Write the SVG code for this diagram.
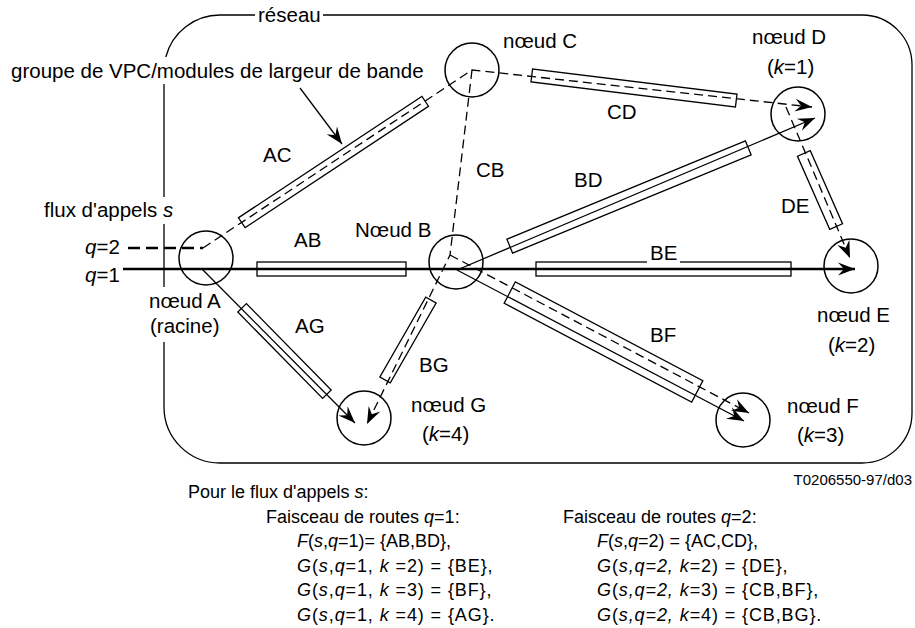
<svg xmlns="http://www.w3.org/2000/svg" width="915" height="628" viewBox="0 0 915 628">
<style>
.ln{fill:none;stroke:#000;stroke-width:1.3}
.dash{stroke-dasharray:9 5}
.thick{stroke-width:2.4}
.box{fill:none;stroke:#000;stroke-width:1.3}
.nd{fill:none;stroke:#000;stroke-width:1.5}
text{font-family:"Liberation Sans",Arial,Helvetica,sans-serif;font-size:20.5px;fill:#000}
.sm{font-size:18px}
.gl{font-size:18px;letter-spacing:0.9px}
.id{font-size:15px}
.i{font-style:italic}
</style>
<defs>
<marker id="arr" markerUnits="userSpaceOnUse" viewBox="-18 -8 19 16" refX="0" refY="0" markerWidth="19" markerHeight="16" orient="auto" overflow="visible">
<path d="M0,0 L-17,-6.5 L-11,0 L-17,6.5 Z" fill="#000" stroke="none"/>
</marker>
</defs>
<rect width="915" height="628" fill="#fff"/>

<g id="reseau">
<path class="ln" d="M164,84 V197 M164,224 V287 M164,342 V407 A56,56 0 0 0 220,463 H862 A50,50 0 0 0 912,413 V65 A50,50 0 0 0 862,15 H323 M255,15 H220 A56,56 0 0 0 165.8,57"/>
<text x="258" y="22">réseau</text>
</g>

<g id="bundles">
<rect class="box" x="-110" y="-6" width="220" height="12" transform="translate(333.5,162) rotate(-33.5)"/>
<rect class="box" x="-103" y="-6.5" width="206" height="13" transform="translate(634,88) rotate(7)"/>
<rect class="box" x="257" y="262" width="149" height="14"/>
<rect class="box" x="-129" y="-7.5" width="258" height="15" transform="translate(629,197) rotate(-22.4)"/>
<rect class="box" x="536" y="262" width="255" height="14"/>
<rect class="box" x="-40" y="-7" width="80" height="14" transform="translate(820,190) rotate(66.2)"/>
<rect class="box" x="-106" y="-12" width="212" height="24" transform="translate(603.5,342) rotate(27.8)"/>
<rect class="box" x="-46" y="-6" width="92" height="12" transform="translate(408,340) rotate(-60.1)"/>
<rect class="box" x="-60.5" y="-6" width="121" height="12" transform="translate(284.5,351) rotate(45.5)"/>
</g>

<g id="connectors">
<path class="ln thick" d="M123,269 H855" marker-end="url(#arr)"/>
<path class="ln thick dash" d="M128,248 H203" style="stroke-dasharray:12 6"/>
<path class="ln dash" d="M203,248 L472,70 L812,107" marker-end="url(#arr)"/>
<path class="ln dash" d="M786,107 L850,258" marker-end="url(#arr)"/>
<path class="ln dash" d="M472,70 L450,255 L367,424" marker-end="url(#arr)"/>
<path class="ln dash" d="M450,255 L749,413" marker-end="url(#arr)"/>
<path class="ln" d="M457,270 L815,118" marker-end="url(#arr)"/>
<path class="ln" d="M457,270 L744,421" marker-end="url(#arr)"/>
<path class="ln" d="M202,269 L355,423" marker-end="url(#arr)"/>
<path class="ln" d="M300,88 L342,144" marker-end="url(#arr)"/>
</g>

<g id="edge-labels">
<text x="263" y="162">AC</text>
<text x="294" y="247">AB</text>
<text x="476" y="177">CB</text>
<text x="607" y="119">CD</text>
<text x="574" y="187">BD</text>
<text x="781" y="213">DE</text>
<rect x="647" y="246" width="33" height="17.5" fill="#fff"/>
<text x="650" y="260">BE</text>
<text x="650" y="342">BF</text>
<text x="295" y="333">AG</text>
<text x="419" y="372">BG</text>
<text x="11" y="77.5">groupe de VPC/modules de largeur de bande</text>
<text x="44" y="217">flux d'appels <tspan class="i">s</tspan></text>
<text x="85" y="254"><tspan class="i">q</tspan>=2</text>
<text x="85" y="282"><tspan class="i">q</tspan>=1</text>
</g>

<g id="node-A">
<circle class="nd" cx="206" cy="258" r="27"/>
<text x="149" y="308">nœud A</text>
<text x="150" y="333">(racine)</text>
</g>
<g id="node-B">
<circle class="nd" cx="456" cy="262" r="27"/>
<text x="355" y="237">Nœud B</text>
</g>
<g id="node-C">
<circle class="nd" cx="472" cy="70" r="27"/>
<text x="503" y="48">nœud C</text>
</g>
<g id="node-D">
<circle class="nd" cx="798" cy="114" r="27"/>
<text x="752" y="44">nœud D</text>
<text x="767" y="74">(<tspan class="i">k</tspan>=1)</text>
</g>
<g id="node-E">
<circle class="nd" cx="851" cy="266" r="27"/>
<text x="817" y="322">nœud E</text>
<text x="828" y="352">(<tspan class="i">k</tspan>=2)</text>
</g>
<g id="node-F">
<circle class="nd" cx="743" cy="420" r="27"/>
<text x="787" y="413">nœud F</text>
<text x="797" y="442">(<tspan class="i">k</tspan>=3)</text>
</g>
<g id="node-G">
<circle class="nd" cx="364" cy="418" r="27"/>
<text x="411" y="412">nœud G</text>
<text x="422" y="441">(<tspan class="i">k</tspan>=4)</text>
</g>

<g id="legend">
<text class="id" x="912" y="485" text-anchor="end">T0206550-97/d03</text>
<text class="sm" x="188" y="498">Pour le flux d'appels <tspan class="i">s</tspan>:</text>
<text class="sm" x="266" y="522.5">Faisceau de routes <tspan class="i">q</tspan>=1:</text>
<text class="sm" x="297" y="547"><tspan class="i">F</tspan>(<tspan class="i">s</tspan>,<tspan class="i">q</tspan>=1)= {AB,BD},</text>
<text class="gl" x="297" y="571.5"><tspan class="i">G</tspan>(<tspan class="i">s</tspan>,<tspan class="i">q</tspan>=1, <tspan class="i">k</tspan> =2) = {BE},</text>
<text class="gl" x="297" y="596"><tspan class="i">G</tspan>(<tspan class="i">s</tspan>,<tspan class="i">q</tspan>=1, <tspan class="i">k</tspan> =3) = {BF},</text>
<text class="gl" x="297" y="620.5"><tspan class="i">G</tspan>(<tspan class="i">s</tspan>,<tspan class="i">q</tspan>=1, <tspan class="i">k</tspan> =4) = {AG}.</text>
<text class="sm" x="563" y="522.5">Faisceau de routes <tspan class="i">q</tspan>=2:</text>
<text class="sm" x="597" y="547"><tspan class="i">F</tspan>(<tspan class="i">s</tspan>,<tspan class="i">q</tspan>=2) = {AC,CD},</text>
<text class="gl" x="597" y="571.5"><tspan class="i">G</tspan>(<tspan class="i">s,q=2, k=</tspan>2) = {DE},</text>
<text class="gl" x="597" y="596"><tspan class="i">G</tspan>(<tspan class="i">s,q=2, k=</tspan>3) = {CB,BF},</text>
<text class="gl" x="597" y="620.5"><tspan class="i">G</tspan>(<tspan class="i">s,q=2, k=</tspan>4) = {CB,BG}.</text>
</g>
</svg>
